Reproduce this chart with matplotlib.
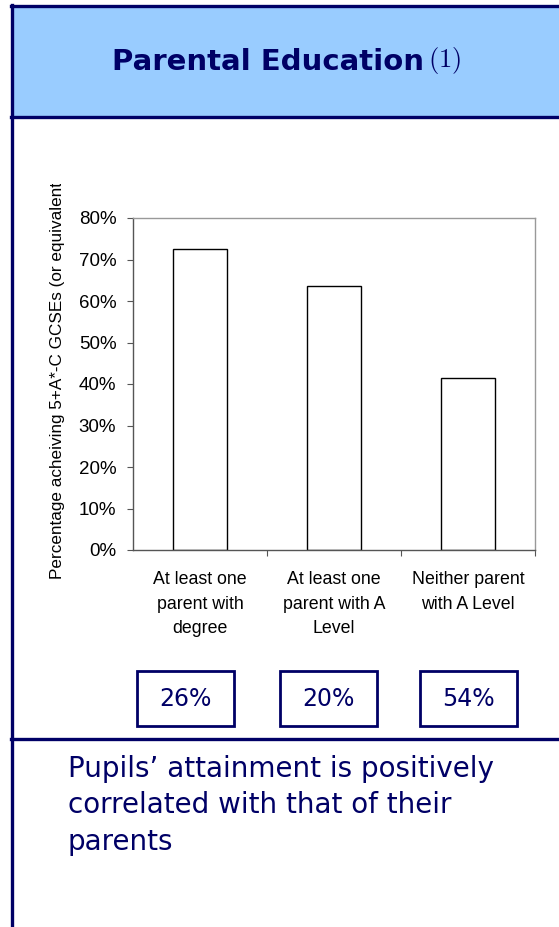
import matplotlib.pyplot as plt
from matplotlib.patches import Rectangle
from matplotlib.ticker import PercentFormatter
from matplotlib.transforms import Bbox

categories = ["At least one\nparent with\ndegree", "At least one\nparent with A\nLevel", "Neither parent\nwith A Level"]
pct_achieving = [72.5, 63.6, 41.4]
share_labels = ["26%", "20%", "54%"]
yticks = [0, 10, 20, 30, 40, 50, 60, 70, 80]

navy = "#000066"
band = "#99CCFF"

W, H = 559, 927
fig = plt.figure(figsize=(W / 100, H / 100), dpi=100)

# pixel coords -> figure fraction
def fx(x):
    return x / W

def fy(y):
    return 1 - y / H

fig.patches.append(Rectangle((fx(11), fy(116)), 1, fy(6) - fy(116), transform=fig.transFigure,
                             facecolor=band, edgecolor="none", zorder=0))
fig.add_artist(plt.Line2D([fx(11), 1], [fy(5.5), fy(5.5)], color=navy, lw=2.4))
fig.add_artist(plt.Line2D([fx(11), 1], [fy(116.5), fy(116.5)], color=navy, lw=2.4))
fig.add_artist(plt.Line2D([fx(11), 1], [fy(739), fy(739)], color=navy, lw=2.4))
fig.add_artist(plt.Line2D([fx(11.5), fx(11.5)], [0, fy(4.5)], color=navy, lw=2.4))

# title
fig.text(fx(112), fy(62), "Parental Education", color=navy, fontsize=21, fontweight="bold",
         family="DejaVu Sans", va="center", ha="left")
fig.text(fx(428), fy(61), "$(1)$", color=navy, fontsize=19, math_fontfamily="cm",
         va="center", ha="left")

# bar chart
ax = fig.add_axes([fx(133), fy(550), fx(535) - fx(133), fy(218) - fy(550)])
x = range(len(categories))
ax.bar(x, pct_achieving, width=0.4, facecolor="white", edgecolor="black", linewidth=1.0)
ax.set_xlim(-0.5, len(categories) - 0.5)
ax.set_ylim(0, 80)
ax.set_yticks(yticks)
ax.yaxis.set_major_formatter(PercentFormatter(decimals=0))
ax.set_xticks([i + 0.5 for i in range(len(categories))], minor=False)
ax.set_xticklabels([])
ax.set_xticks(list(x), minor=True)
ax.set_xticklabels(categories, minor=True, fontsize=12.8, family="Liberation Sans", linespacing=1.6)
ax.tick_params(axis="x", which="minor", length=0, pad=15)
ax.tick_params(axis="x", which="major", length=4.5, direction="out", color="#555555")
ax.tick_params(axis="y", length=4.5, direction="out", color="#555555", labelsize=13.5, pad=7.5)
for lab in ax.get_yticklabels():
    lab.set_family("Liberation Sans")
ylab = ax.set_ylabel("Percentage acheiving 5+A*-C GCSEs (or equivalent)", fontsize=12.3,
                     family="Liberation Sans", labelpad=10)
ax.yaxis.set_label_coords(-0.168, 0.52)
ylab.set_clip_box(Bbox.from_extents(0, 0, W, H - 184))
ylab.set_clip_on(True)
for s in ["left", "bottom"]:
    ax.spines[s].set_color("#555555")
    ax.spines[s].set_linewidth(1.0)
for s in ["top", "right"]:
    ax.spines[s].set_color("#999999")
    ax.spines[s].set_linewidth(1.0)

# share boxes under each category
box_left = [137, 280, 420]
for bl, lab in zip(box_left, share_labels):
    fig.patches.append(Rectangle((fx(bl), fy(726)), fx(97), fy(671) - fy(726), transform=fig.transFigure,
                                 facecolor="white", edgecolor=navy, linewidth=2))
    fig.text(fx(bl + 48.5), fy(699), lab, color=navy, fontsize=17, family="DejaVu Sans",
             ha="center", va="center")

# summary text
fig.text(fx(68), fy(755), "Pupils\u2019 attainment is positively\ncorrelated with that of their\nparents",
         color=navy, fontsize=20, family="DejaVu Sans",
         ha="left", va="top", linespacing=1.38)

fig.savefig("out.png", dpi=100)
